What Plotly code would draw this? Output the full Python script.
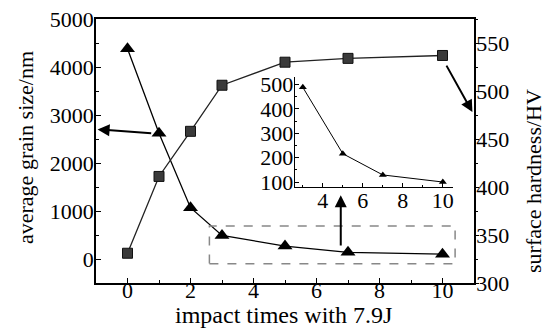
import plotly.graph_objects as go

impact_times = [0, 1, 2, 3, 5, 7, 10]
grain_size_nm = [4380, 2620, 1070, 490, 270, 140, 100]
hardness_hv = [331, 411, 458, 506, 530, 534, 537]

inset_times = [3, 5, 7, 10]
inset_grain = [488, 216, 129, 100]

FONT = "Liberation Serif"
TICK = dict(family=FONT, size=22, color="black")
fig = go.Figure()

fig.add_trace(go.Scatter(x=impact_times, y=grain_size_nm, mode="lines+markers",
                         line=dict(color="black", width=1.3),
                         marker=dict(symbol="triangle-up", size=13, color="black"),
                         xaxis="x", yaxis="y", showlegend=False))
fig.add_trace(go.Scatter(x=impact_times, y=hardness_hv, mode="lines+markers",
                         line=dict(color="#222", width=1.3),
                         marker=dict(symbol="square", size=10, color="#3a3a3a",
                                     line=dict(color="#111", width=1)),
                         xaxis="x", yaxis="y2", showlegend=False))
fig.add_trace(go.Scatter(x=inset_times, y=inset_grain, mode="lines+markers",
                         line=dict(color="black", width=1),
                         marker=dict(symbol="triangle-up", size=7, color="black"),
                         xaxis="x3", yaxis="y3", showlegend=False))

axis_common = dict(showline=True, linecolor="black", linewidth=1.5, automargin=False,
                   tickfont=TICK, showgrid=False, zeroline=False, ticks="inside",
                   ticklen=5, tickcolor="black")

fig.update_layout(
    width=545, height=328,
    margin=dict(l=96, r=71, t=19, b=45),
    paper_bgcolor="white", plot_bgcolor="white",
    font=dict(family=FONT, color="black"),
    xaxis=dict(**axis_common, range=[-1, 11], dtick=2, tick0=0, mirror=True,
               ticklabelstandoff=-13,
               minor=dict(dtick=1, ticks="inside", ticklen=3, tickcolor="black")),
    yaxis=dict(**axis_common, range=[-500, 5000], dtick=1000, tick0=0,
               ticklabelstandoff=-4,
               minor=dict(dtick=500, ticks="inside", ticklen=3, tickcolor="black")),
    yaxis2=dict(showline=True, linecolor="black", linewidth=1.5, automargin=False,
                tickfont=TICK, showgrid=False, zeroline=False, ticks="outside",
                ticklen=3, tickcolor="black", ticklabelstandoff=-7,
                overlaying="y", side="right", range=[300, 575], dtick=50, tick0=300,
                minor=dict(dtick=25, ticks="outside", ticklen=2, tickcolor="black")),
    xaxis3=dict(showline=True, linecolor="black", linewidth=1.2, automargin=False,
                tickfont=TICK, showgrid=False, zeroline=False, ticks="inside",
                ticklen=4, tickcolor="black", ticklabelstandoff=-6,
                domain=[0.526, 0.944], anchor="y3", range=[2.6, 10.5], dtick=2, tick0=0,
                minor=dict(dtick=1, ticks="inside", ticklen=2, tickcolor="black")),
    yaxis3=dict(showline=True, linecolor="black", linewidth=1.2, automargin=False,
                tickfont=TICK, showgrid=False, zeroline=False, ticks="inside",
                ticklen=4, tickcolor="black", ticklabelstandoff=-4,
                domain=[0.364, 0.78], anchor="x3", range=[80, 530], dtick=100, tick0=0,
                minor=dict(dtick=50, ticks="inside", ticklen=2, tickcolor="black")),
)

# axis titles placed as annotations (paper coords; plot area is 378x264 px)
fig.add_annotation(xref="paper", yref="paper", x=(283 - 96) / 378, y=-(315 - 283) / 264,
                   text="impact times with 7.9J", showarrow=False,
                   font=dict(family=FONT, size=24, color="black"),
                   xanchor="center", yanchor="middle")
fig.add_annotation(xref="paper", yref="paper", x=-(96 - 25) / 378, y=(283 - 148) / 264,
                   text="average grain size/nm", showarrow=False, textangle=-90,
                   font=dict(family=FONT, size=22, color="black"),
                   xanchor="center", yanchor="middle")
fig.add_annotation(xref="paper", yref="paper", x=1 + (533 - 474) / 378, y=(283 - 181) / 264,
                   text="surface hardness/HV", showarrow=False, textangle=-90,
                   font=dict(family=FONT, size=22, color="black"),
                   xanchor="center", yanchor="middle")

# dashed box around the low-value region
fig.add_shape(type="rect", xref="x", yref="y", x0=2.6, x1=10.4, y0=-100, y1=690,
              line=dict(color="#888", width=1.5, dash="dash"))

# arrows
fig.add_annotation(xref="x", yref="y", axref="x", ayref="y",
                   x=-0.95, y=2700, ax=0.8, ay=2620, text="", showarrow=True,
                   arrowhead=2, arrowsize=1.2, arrowwidth=2, arrowcolor="black")
fig.add_annotation(xref="x", yref="y2", axref="x", ayref="y2",
                   x=10.95, y=478, ax=10.1, ay=528, text="", showarrow=True,
                   arrowhead=2, arrowsize=1.2, arrowwidth=2, arrowcolor="black")
fig.add_annotation(xref="x", yref="y", axref="x", ayref="y",
                   x=6.77, y=1330, ax=6.77, ay=250, text="", showarrow=True,
                   arrowhead=2, arrowsize=1.2, arrowwidth=2, arrowcolor="black")

fig.write_html("out.html", config={"displayModeBar": False},
               post_script="document.body.style.margin='0';document.body.style.padding='0';")
